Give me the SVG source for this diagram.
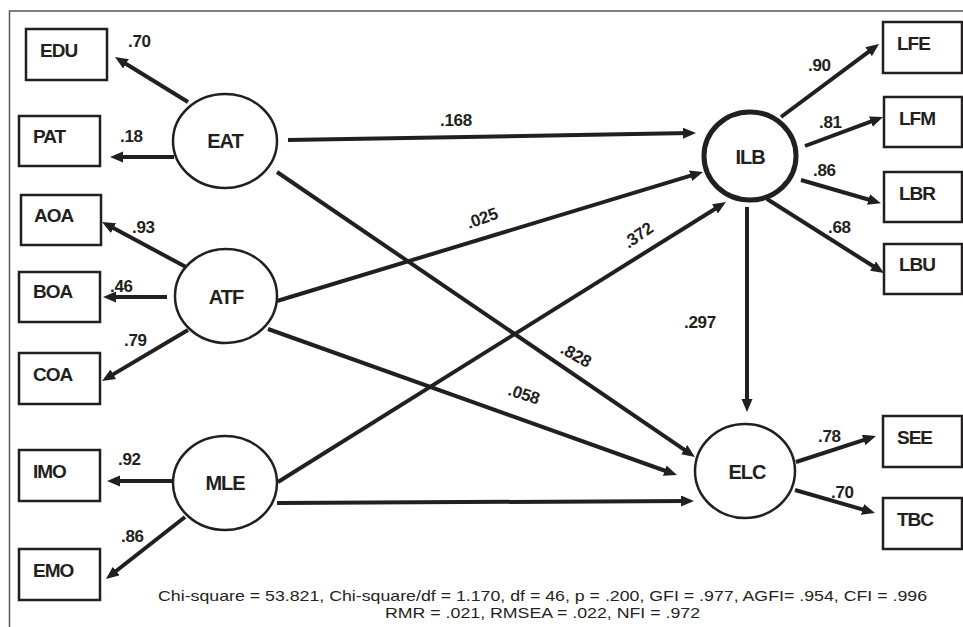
<svg xmlns="http://www.w3.org/2000/svg" width="963" height="627" viewBox="0 0 963 627">
<style>
.box{fill:#fff;stroke:#231f20;stroke-width:2.5}
.lat{fill:#fff;stroke:#231f20;stroke-width:2.5}
.lab{font-family:"Liberation Sans",Arial,sans-serif;font-weight:bold;font-size:19px;letter-spacing:-1px;fill:#231f20}
.nl{font-family:"Liberation Sans",Arial,sans-serif;font-weight:bold;font-size:20px;letter-spacing:-1px;fill:#231f20;text-anchor:middle}
.num{font-family:"Liberation Sans",Arial,sans-serif;font-weight:bold;font-size:17px;letter-spacing:-0.3px;fill:#231f20}
.fit{font-family:"Liberation Sans",Arial,sans-serif;font-size:15px;fill:#231f20}
.con line{stroke:#231f20;stroke-width:4;marker-end:url(#ah)}
</style>
<defs>
<marker id="ah" markerUnits="userSpaceOnUse" markerWidth="14" markerHeight="12" refX="7" refY="5.5" orient="auto">
<path d="M0,0 L13,5.5 L0,11 z" fill="#231f20"/>
</marker>
</defs>
<rect width="963" height="627" fill="#fff"/>
<path d="M9.5,627 L9.5,11 L963,11" fill="none" stroke="#555" stroke-width="1.5"/>

<g class="con" id="connectors">
<line x1="188" y1="102" x2="120.1" y2="60.2"/>
<line x1="174" y1="157" x2="116" y2="157"/>
<line x1="186" y1="267" x2="107.3" y2="224.8"/>
<line x1="167" y1="297" x2="109" y2="297"/>
<line x1="188" y1="330" x2="107.2" y2="377.9"/>
<line x1="172" y1="481" x2="113" y2="481"/>
<line x1="185" y1="517" x2="110.7" y2="575.3"/>
<line x1="288" y1="140" x2="690" y2="133.1"/>
<line x1="277" y1="172" x2="690" y2="453.6"/>
<line x1="277" y1="301" x2="697.3" y2="173.7"/>
<line x1="268" y1="329" x2="671.3" y2="473"/>
<line x1="278" y1="482" x2="720.9" y2="205.2"/>
<line x1="277" y1="503" x2="688" y2="501"/>
<line x1="747" y1="207" x2="747" y2="406"/>
<line x1="781" y1="117" x2="874.2" y2="47.6"/>
<line x1="805" y1="146" x2="877.4" y2="119.1"/>
<line x1="801" y1="180" x2="875.2" y2="201.5"/>
<line x1="767" y1="199" x2="878.9" y2="269.8"/>
<line x1="796" y1="462" x2="870.3" y2="437.9"/>
<line x1="795" y1="490" x2="869.2" y2="511.3"/>
</g>

<g id="connector-labels">
<text class="num" x="128" y="47">.70</text>
<text class="num" x="120" y="142">.18</text>
<text class="num" x="132" y="233">.93</text>
<text class="num" x="110" y="292">.46</text>
<text class="num" x="124" y="346">.79</text>
<text class="num" x="118" y="465">.92</text>
<text class="num" x="121" y="542">.86</text>
<text class="num" x="440" y="126">.168</text>
<text class="num" text-anchor="middle" transform="translate(482,218) rotate(-20)" y="6">.025</text>
<text class="num" text-anchor="middle" transform="translate(638,235) rotate(-35)" y="6">.372</text>
<text class="num" text-anchor="middle" transform="translate(576,355) rotate(30)" y="6">.828</text>
<text class="num" text-anchor="middle" transform="translate(524,394) rotate(18)" y="6">.058</text>
<text class="num" x="684" y="328">.297</text>
<text class="num" x="808" y="71">.90</text>
<text class="num" x="819" y="128">.81</text>
<text class="num" x="813" y="176">.86</text>
<text class="num" x="828" y="233">.68</text>
<text class="num" x="818" y="442">.78</text>
<text class="num" x="831" y="498">.70</text>
</g>

<g id="EDU"><rect class="box" x="26" y="29" width="81" height="51"/><text class="lab" x="40" y="57">EDU</text></g>
<g id="PAT"><rect class="box" x="19" y="116" width="81" height="50"/><text class="lab" x="33" y="143">PAT</text></g>
<g id="AOA"><rect class="box" x="21" y="195" width="80" height="50"/><text class="lab" x="34" y="222">AOA</text></g>
<g id="BOA"><rect class="box" x="19" y="272" width="81" height="50"/><text class="lab" x="33" y="298">BOA</text></g>
<g id="COA"><rect class="box" x="19" y="353" width="81" height="51"/><text class="lab" x="33" y="381">COA</text></g>
<g id="IMO"><rect class="box" x="19" y="450" width="81" height="51"/><text class="lab" x="33" y="478">IMO</text></g>
<g id="EMO"><rect class="box" x="19" y="549" width="81" height="51"/><text class="lab" x="33" y="577">EMO</text></g>

<g id="EAT"><ellipse class="lat" cx="225" cy="141" rx="52" ry="47"/><text class="nl" x="225" y="148">EAT</text></g>
<g id="ATF"><ellipse class="lat" cx="226" cy="296" rx="51" ry="47"/><text class="nl" x="226" y="304">ATF</text></g>
<g id="MLE"><ellipse class="lat" cx="225" cy="483" rx="52" ry="47"/><text class="nl" x="225" y="490">MLE</text></g>
<g id="ILB"><ellipse class="lat" cx="750" cy="156" rx="46" ry="44" style="stroke-width:5"/><text class="nl" x="750" y="164">ILB</text></g>
<g id="ELC"><ellipse class="lat" cx="745" cy="471" rx="50" ry="47"/><text class="nl" x="747" y="479">ELC</text></g>

<g id="LFE"><rect class="box" x="883" y="22" width="79" height="51"/><text class="lab" x="897" y="50">LFE</text></g>
<g id="LFM"><rect class="box" x="884" y="97" width="78" height="50"/><text class="lab" x="899" y="125">LFM</text></g>
<g id="LBR"><rect class="box" x="884" y="172" width="78" height="50"/><text class="lab" x="899" y="200">LBR</text></g>
<g id="LBU"><rect class="box" x="884" y="244" width="78" height="50"/><text class="lab" x="899" y="271">LBU</text></g>
<g id="SEE"><rect class="box" x="883" y="416" width="79" height="51"/><text class="lab" x="897" y="444">SEE</text></g>
<g id="TBC"><rect class="box" x="883" y="498" width="79" height="51"/><text class="lab" x="897" y="526">TBC</text></g>

<g id="fit-indices">
<text class="fit" x="158" y="601" textLength="769" lengthAdjust="spacingAndGlyphs">Chi-square = 53.821, Chi-square/df = 1.170, df = 46, p = .200, GFI = .977, AGFI= .954, CFI = .996</text>
<text class="fit" x="385" y="618" textLength="315" lengthAdjust="spacingAndGlyphs">RMR = .021, RMSEA = .022, NFI = .972</text>
</g>
</svg>
